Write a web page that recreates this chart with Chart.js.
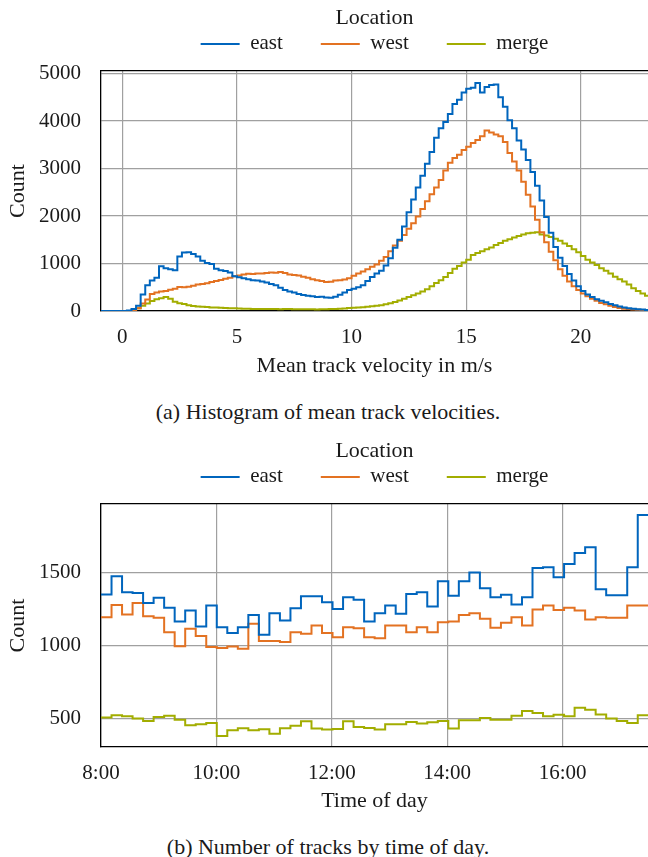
<!DOCTYPE html>
<html>
<head>
<meta charset="utf-8">
<script src="https://cdn.jsdelivr.net/npm/chart.js@4.4.1/dist/chart.umd.min.js"></script>
<style>
  body { margin: 0; background: #fff; width: 648px; height: 857px; overflow: hidden; position: relative; }
  .box { position: absolute; left: 0; width: 648px; }
  .cap { position: absolute; left: 0; width: 656px; text-align: center; font-family: 'Liberation Serif', serif; font-size: 22px; line-height: 26px; color: #1a1a1a; }
</style>
</head>
<body>
<div class="box" style="top:0; height:391px"><canvas id="velChart"></canvas></div>
<div class="cap" style="top:399px">(a) Histogram of mean track velocities.</div>
<div class="box" style="top:433px; height:394px"><canvas id="timeChart"></canvas></div>
<div class="cap" style="top:834px">(b) Number of tracks by time of day.</div>
<script>
var seriesNames = ['east', 'west', 'merge'];
var seriesColors = ['#0065BD', '#E37222', '#A2AD00'];

// (a) histogram, 0.2 m/s bins, first bin starts at -1.0
var velBinStart = -1.0;
var velBinWidth = 0.2;
var velEast = [0, 0, 0, 0, 0,
  0, 10, 40, 110, 350, 540, 640, 700, 940, 900,
  880, 860, 1150, 1230, 1240, 1200, 1150, 1060, 1010, 990,
  890, 860, 840, 810, 730, 710, 690, 670, 650, 640,
  620, 600, 570, 540, 490, 440, 410, 390, 360, 335,
  320, 310, 295, 300, 285, 280, 300, 340, 390, 440,
  470, 500, 540, 630, 715, 790, 850, 960, 1110, 1330,
  1500, 1780, 2080, 2350, 2600, 2850, 3100, 3350, 3650, 3850,
  3980, 4150, 4360, 4450, 4600, 4680, 4700, 4800, 4600, 4720,
  4760, 4770, 4500, 4300, 4020, 3850, 3590, 3400, 3180, 2930,
  2640, 2330, 1980, 1650, 1350, 1120, 950, 780, 640, 520,
  420, 350, 295, 250, 215, 185, 150, 120, 95, 75,
  60, 48, 38, 30, 22, 18];
var velWest = [0, 0, 0, 0, 0,
  0, 0, 10, 60, 160, 240, 360, 390, 410, 420,
  450, 470, 505, 500, 510, 530, 560, 570, 585, 610,
  630, 655, 680, 700, 730, 750, 770, 785, 780, 790,
  790, 800, 810, 805, 820, 800, 770, 760, 750, 720,
  700, 670, 650, 630, 610, 615, 640, 650, 665, 690,
  740, 790, 830, 880, 930, 980, 1060, 1140, 1260, 1380,
  1480, 1600, 1730, 1850, 1990, 2150, 2310, 2460, 2600, 2760,
  2960, 3120, 3220, 3290, 3390, 3460, 3540, 3600, 3680, 3800,
  3760, 3720, 3680, 3560, 3330, 3150, 2960, 2720, 2450, 2200,
  1920, 1660, 1450, 1250, 1070, 880, 740, 620, 520, 440,
  370, 310, 260, 215, 170, 140, 110, 85, 65, 50,
  40, 32, 25, 20, 15, 12];
var velMerge = [0, 0, 0, 0, 0,
  0, 0, 5, 60, 110, 160, 210, 245, 270, 295,
  260, 195, 165, 145, 120, 105, 95, 88, 82, 76,
  72, 68, 64, 60, 57, 55, 50, 46, 44, 42,
  42, 40, 42, 40, 38, 40, 42, 38, 36, 35,
  36, 35, 34, 36, 38, 40, 44, 48, 55, 62,
  68, 72, 80, 90, 100, 110, 120, 140, 165, 190,
  220, 260, 295, 330, 370, 410, 460, 520, 590, 650,
  715, 800, 890, 950, 1020, 1080, 1180, 1220, 1260, 1300,
  1340, 1390, 1430, 1480, 1510, 1550, 1580, 1610, 1640, 1650,
  1660, 1610, 1590, 1560, 1520, 1480, 1420, 1370, 1300, 1240,
  1160, 1080, 1020, 970, 900, 850, 790, 720, 670, 620,
  560, 480, 420, 370, 320, 280];
var velTicks = [0, 5, 10, 15, 20];
var velCountTicks = [0, 1000, 2000, 3000, 4000, 5000];

// (b) tracks per time bin, 52 bins from 8:00
var timeBinStart = 8;
var timeBinWidth = 0.1824;
var timeEast = [1348, 1473, 1364, 1359, 1291, 1327, 1257, 1164, 1239, 1130,
  1273, 1125, 1086, 1125, 1209, 1073, 1221, 1171, 1255, 1337,
  1337, 1296, 1250, 1330, 1312, 1164, 1221, 1273, 1216, 1352,
  1364, 1266, 1439, 1339, 1439, 1498, 1391, 1330, 1346, 1280,
  1330, 1530, 1534, 1466, 1557, 1632, 1671, 1384, 1343, 1343,
  1534, 1891];
var timeWest = [1193, 1277, 1211, 1291, 1200, 1189, 1091, 995, 1114, 1064,
  989, 982, 993, 977, 1148, 1030, 1030, 1023, 1091, 1080,
  1136, 1086, 1057, 1125, 1118, 1057, 1050, 1136, 1136, 1091,
  1125, 1091, 1159, 1164, 1209, 1221, 1182, 1121, 1155, 1193,
  1136, 1246, 1273, 1243, 1257, 1239, 1177, 1193, 1189, 1189,
  1273, 1273];
var timeMerge = [507, 523, 516, 500, 484, 511, 520, 493, 454, 461,
  470, 382, 420, 434, 420, 427, 397, 434, 452, 482,
  432, 425, 429, 482, 443, 436, 425, 461, 461, 477,
  466, 475, 484, 432, 488, 488, 504, 493, 493, 520,
  552, 538, 516, 527, 516, 575, 561, 529, 500, 484,
  470, 523];
var timeTicks = [8, 10, 12, 14, 16];
var timeTickLabels = ['8:00', '10:00', '12:00', '14:00', '16:00'];
var timeCountTicks = [500, 1000, 1500];

Chart.defaults.font.family = "'Liberation Serif', 'Times New Roman', serif";
Chart.defaults.color = '#1a1a1a';

var gridStyle = { color: '#a0a0a0', lineWidth: 1.2, drawTicks: false };
var frameStyle = { display: true, color: '#000', width: 1.3 };

// histogram steps: one point per bin start, plus the closing edge
function stepPoints(values, start, width) {
  var pts = values.map(function (v, i) { return { x: start + i * width, y: v }; });
  pts.push({ x: start + values.length * width, y: values[values.length - 1] });
  return pts;
}

function buildDatasets(series, start, width) {
  return seriesNames.map(function (name, i) {
    return {
      label: name,
      data: stepPoints(series[i], start, width),
      xAxisID: 'x',
      borderColor: seriesColors[i],
      backgroundColor: seriesColors[i],
      borderWidth: 2,
      pointRadius: 0,
      stepped: true,
      fill: false
    };
  });
}

function fixedTicks(list) {
  return function (s) { s.ticks = list.map(function (v) { return { value: v }; }); };
}

function makeChart(id, datasets, cfg) {
  return new Chart(document.getElementById(id), {
    type: 'line',
    data: { datasets: datasets },
    options: {
      responsive: true,
      maintainAspectRatio: false,
      animation: false,
      layout: { padding: 0 },
      scales: {
        x: {
          type: 'linear',
          min: cfg.xMin,
          max: cfg.xMax,
          afterBuildTicks: fixedTicks(cfg.xTicks),
          afterFit: function (s) { s.height = 80; },
          ticks: { padding: 13.4, font: { size: 21 }, maxRotation: 0, callback: cfg.xLabel },
          grid: gridStyle,
          border: frameStyle,
          title: { display: true, text: cfg.xTitle, font: { size: 22 }, padding: { top: 0, bottom: cfg.xTitlePad } }
        },
        xTop: {
          type: 'linear',
          position: 'top',
          min: cfg.xMin,
          max: cfg.xMax,
          afterFit: function (s) { s.height = 6.6; },
          ticks: { display: false },
          grid: { display: false },
          border: frameStyle
        },
        y: {
          min: cfg.yMin,
          max: cfg.yMax,
          afterBuildTicks: fixedTicks(cfg.yTicks),
          afterFit: function (s) { s.width = 101; },
          ticks: { padding: 20, font: { size: 21 }, callback: function (v) { return String(v); } },
          grid: gridStyle,
          border: frameStyle,
          title: { display: true, text: 'Count', font: { size: 22 }, padding: { top: 4.8, bottom: 0 } }
        }
      },
      plugins: {
        tooltip: { enabled: false },
        legend: {
          fullSize: false,
          labels: {
            boxWidth: 39,
            boxHeight: 2,
            padding: 38,
            font: { size: 21 },
            generateLabels: function (c) {
              var items = Chart.defaults.plugins.legend.labels.generateLabels(c);
              items.forEach(function (it) { it.lineWidth = 0; });
              return items;
            }
          },
          title: { display: true, text: 'Location', font: { size: 22 }, padding: { top: 7, bottom: -38 } }
        }
      }
    }
  });
}

makeChart('velChart', buildDatasets([velEast, velWest, velMerge], velBinStart, velBinWidth), {
  xMin: -0.93, xMax: 22.93, xTicks: velTicks,
  xLabel: function (v) { return String(v); },
  xTitle: 'Mean track velocity in m/s', xTitlePad: 11.1,
  yMin: 0, yMax: 5055, yTicks: velCountTicks
});

makeChart('timeChart', buildDatasets([timeEast, timeWest, timeMerge], timeBinStart, timeBinWidth), {
  xMin: 8, xMax: 17.48, xTicks: timeTicks,
  xLabel: function (v, i) { return timeTickLabels[i]; },
  xTitle: 'Time of day', xTitlePad: 12.1,
  yMin: 306, yMax: 1967, yTicks: timeCountTicks
});
</script>
</body>
</html>
